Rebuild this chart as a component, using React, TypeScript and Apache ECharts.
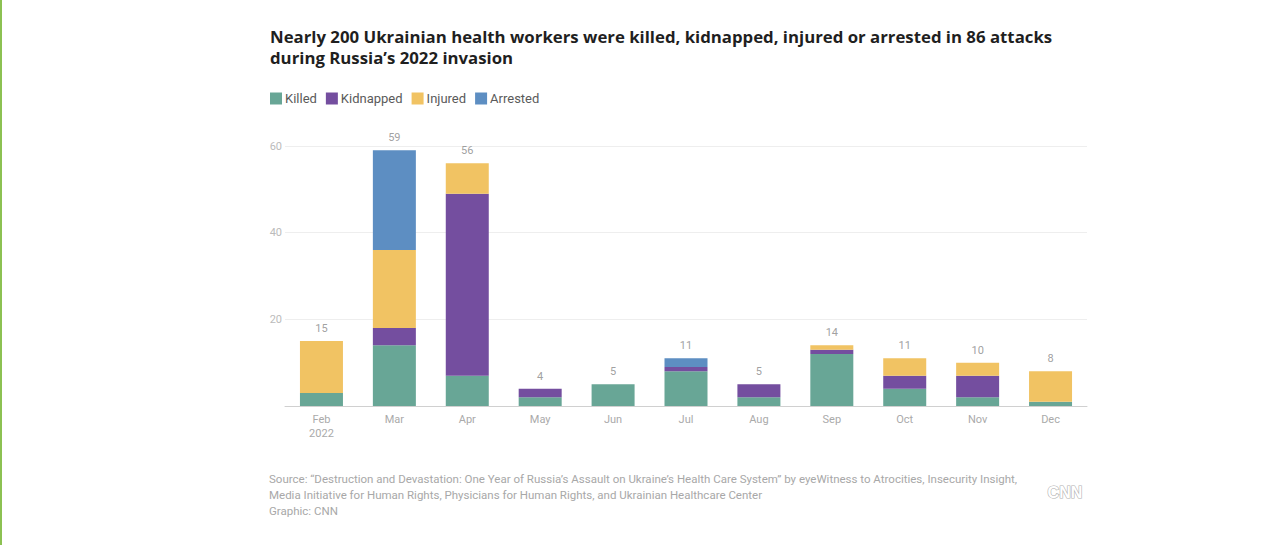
import React, { useEffect, useRef } from "react";
import * as echarts from "echarts";

const months = ["Feb\n2022", "Mar", "Apr", "May", "Jun", "Jul", "Aug", "Sep", "Oct", "Nov", "Dec"];
const killed = [3, 14, 7, 2, 5, 8, 2, 12, 4, 2, 1];
const kidnapped = [0, 4, 42, 2, 0, 1, 3, 1, 3, 5, 0];
const injured = [12, 18, 7, 0, 0, 0, 0, 1, 4, 3, 7];
const arrested = [0, 23, 0, 0, 0, 2, 0, 0, 0, 0, 0];
const yTicks = [0, 20, 40, 60];

const titleText =
  "Nearly 200 Ukrainian health workers were killed, kidnapped, injured or arrested in 86 attacks\nduring Russia\u2019s 2022 invasion";
const sourceText =
  "Source: \u201cDestruction and Devastation: One Year of Russia\u2019s Assault on Ukraine\u2019s Health Care System\u201d by eyeWitness to Atrocities, Insecurity Insight,\nMedia Initiative for Human Rights, Physicians for Human Rights, and Ukrainian Healthcare Center\nGraphic: CNN";

const colors = {
  Killed: "#68a696",
  Kidnapped: "#744e9f",
  Injured: "#f1c363",
  Arrested: "#5d8ec2",
};

export default function App() {
  const ref = useRef<HTMLDivElement>(null);
  useEffect(() => {
    if (!ref.current) return;
    const chart = echarts.init(ref.current, null, { renderer: "svg" });
    const totals = months.map((_, i) => killed[i] + kidnapped[i] + injured[i] + arrested[i]);
    const mk = (name: string, data: number[]) => ({
      name,
      type: "bar",
      stack: "total",
      barWidth: 43,
      data,
      itemStyle: { color: (colors as any)[name] },
      emphasis: { disabled: true },
    });
    chart.setOption({
      animation: false,
      backgroundColor: "#ffffff",
      textStyle: { fontFamily: "Roboto, 'Liberation Sans', sans-serif" },
      title: {
        text: titleText,
        left: 265,
        top: 21,
        textStyle: {
          fontSize: 16.8,
          fontWeight: "bold",
          color: "#1f1f1f",
          lineHeight: 21,
          fontFamily: "'Open Sans', Roboto, sans-serif",
        },
      },
      legend: {
        left: 265,
        top: 87,
        itemWidth: 12,
        itemHeight: 12,
        itemGap: 9,
        icon: "rect",
        textStyle: { fontSize: 13, color: "#5a5a5a", padding: [0, 0, 0, -2] },
        data: ["Killed", "Kidnapped", "Injured", "Arrested"],
      },
      grid: { left: 285, right: 193, top: 146, bottom: 139 },
      xAxis: {
        type: "category",
        data: months,
        axisTick: { show: false },
        axisLine: { lineStyle: { color: "#d0d0d0", width: 1 } },
        axisLabel: { color: "#aaaaaa", fontSize: 11, margin: 6, lineHeight: 14 },
      },
      yAxis: {
        type: "value",
        min: yTicks[0],
        max: yTicks[yTicks.length - 1],
        interval: 20,
        axisLine: { show: false },
        axisTick: { show: false },
        axisLabel: {
          color: "#bbbbbb",
          fontSize: 11,
          margin: 3,
          formatter: (v: number) => (v === 0 ? "" : String(v)),
        },
        splitLine: { lineStyle: { color: "#eeeeee" } },
      },
      series: [
        mk("Killed", killed),
        mk("Kidnapped", kidnapped),
        mk("Injured", injured),
        mk("Arrested", arrested),
        {
          name: "Total",
          type: "scatter",
          data: totals,
          symbol: "circle",
          symbolSize: 2,
          itemStyle: { color: "rgba(255,255,255,0)" },
          silent: true,
          z: 10,
          label: {
            show: true,
            position: "top",
            distance: 6,
            color: "#888888",
            fontSize: 11,
          },
          tooltip: { show: false },
        },
      ],
      graphic: [
        {
          type: "rect",
          left: 0,
          top: 0,
          shape: { width: 2, height: 545 },
          style: { fill: "#8cc152" },
        },
        {
          type: "text",
          left: 269,
          top: 471,
          style: {
            text: sourceText,
            fontSize: 11.5,
            lineHeight: 16,
            fill: "#a8a8a8",
            fontFamily: "Roboto, 'Liberation Sans', sans-serif",
          },
        },
        {
          type: "text",
          left: 1047,
          top: 484,
          style: {
            text: "CNN",
            fontSize: 16,
            fontWeight: "bold",
            fill: "#ffffff",
            stroke: "#b0b0b0",
            lineWidth: 1.2,
            fontFamily: "'Liberation Sans', Arial, sans-serif",
          },
        },
      ],
    });
    return () => chart.dispose();
  }, []);
  return (
    <div
      ref={ref}
      style={{ position: "fixed", left: 0, top: 0, width: 1280, height: 545 }}
    />
  );
}
